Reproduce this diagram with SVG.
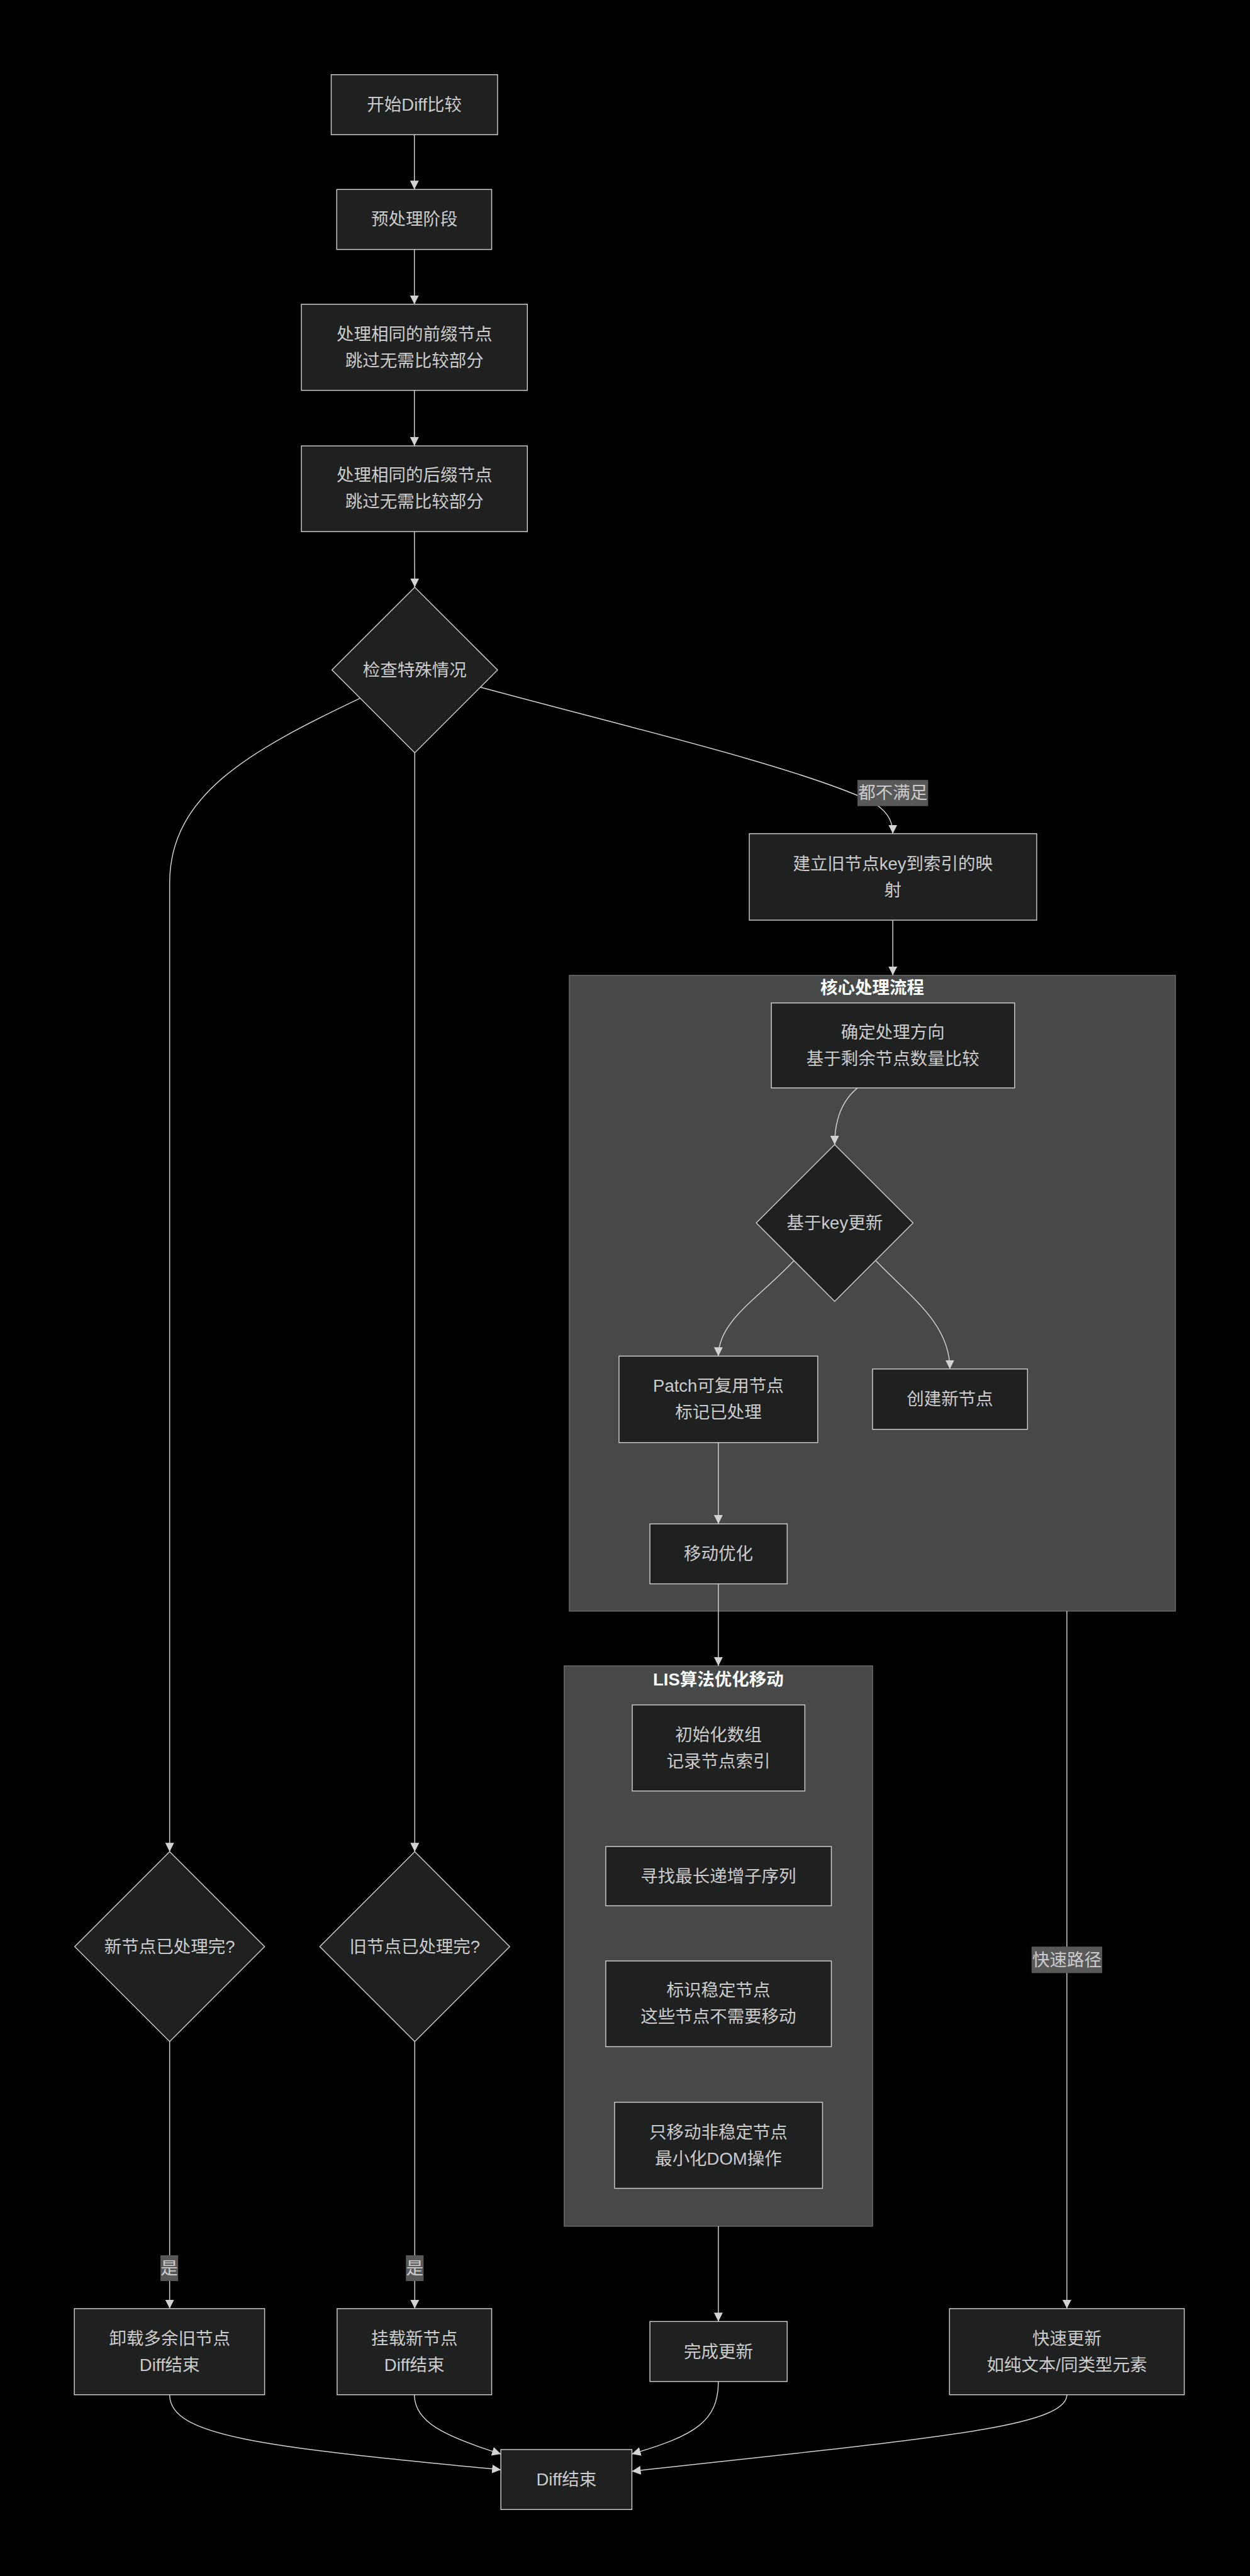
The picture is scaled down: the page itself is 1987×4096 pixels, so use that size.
<svg xmlns="http://www.w3.org/2000/svg" width="1987" height="4096" viewBox="0 0 1987 4096">
<style>
.bg{fill:#000000}
.n{fill:#1f2020;stroke:#cccccc;stroke-width:2.5}
.cl{fill:#474949;stroke:#6a6c6c;stroke-width:2.5}
.t{font-family:"Liberation Sans","Noto Sans CJK SC",sans-serif;font-size:47px;fill:#cccccc;text-anchor:middle;dominant-baseline:central}
.ct{font-family:"Liberation Sans","Noto Sans CJK SC",sans-serif;font-size:47px;fill:#f9fffe;text-anchor:middle;dominant-baseline:central;font-weight:bold}
.e{fill:none;stroke:#d3d3d3;stroke-width:2.5;marker-end:url(#arr)}
.lb{fill:#585858}
</style>
<defs>
<marker id="arr" viewBox="0 0 10 10" refX="10" refY="5" markerWidth="24" markerHeight="24" markerUnits="userSpaceOnUse" orient="auto">
<path d="M0,0 L10,5 L0,10 z" fill="#d3d3d3"/>
</marker>
</defs>
<rect class="bg" x="0" y="0" width="1987" height="4096"/>
<g transform="scale(0.585)">
<g id="clusters">
<g id="cluster-core"><rect class="cl" x="1547" y="2651" width="1647" height="1728"/><text class="ct" x="2370" y="2684">核心处理流程</text></g>
<g id="cluster-lis"><rect class="cl" x="1533" y="4528" width="838" height="1523"/><text class="ct" x="1952" y="4565">LIS算法优化移动</text></g>
</g>
<g id="edges">
<path class="e" d="M1126,366 L1126,515"/>
<path class="e" d="M1126,678 L1126,827"/>
<path class="e" d="M1126,1061 L1126,1212"/>
<path class="e" d="M1126,1445 L1127,1596"/>
<path class="e" d="M978,1898 C680,2040 461,2160 461,2400 L461,5033"/>
<path class="e" d="M1127,2046 L1127,5033"/>
<path class="e" d="M1306,1868 C1700,1975 2150,2080 2360,2175 C2410,2200 2426,2230 2426,2266"/>
<path class="e" d="M2426,2501 L2426,2651"/>
<path class="e" d="M2330,2957 C2290,2990 2268,3040 2268,3111"/>
<path class="e" d="M2157,3427 C2060,3530 1952,3590 1952,3686"/>
<path class="e" d="M2380,3427 C2480,3530 2581,3600 2581,3721"/>
<path class="e" d="M1952,3921 L1952,4142"/>
<path class="e" d="M1952,4305 L1952,4528"/>
<path class="e" d="M1952,6051 L1952,6310"/>
<path class="e" d="M2899,4379 L2899,6275"/>
<path class="e" d="M461,5549 L461,6275"/>
<path class="e" d="M1127,5549 L1127,6275"/>
<path class="e" d="M461,6509 C461,6620 700,6650 1361,6713"/>
<path class="e" d="M1126,6509 C1126,6580 1200,6620 1361,6670"/>
<path class="e" d="M1952,6473 C1952,6580 1890,6620 1717,6670"/>
<path class="e" d="M2899,6509 C2899,6600 2500,6630 1717,6717"/>
</g>
<g id="edge-labels">
<g><rect class="lb" x="2330" y="2120" width="192" height="71"/><text class="t" x="2426" y="2155.5">都不满足</text></g>
<g><rect class="lb" x="2803" y="5291" width="192" height="72"/><text class="t" x="2899" y="5327">快速路径</text></g>
<g><rect class="lb" x="436" y="6130" width="48" height="70"/><text class="t" x="460" y="6165">是</text></g>
<g><rect class="lb" x="1103" y="6130" width="48" height="70"/><text class="t" x="1127" y="6165">是</text></g>
</g>
<g id="nodes">
<g id="start"><rect class="n" x="900" y="203" width="452" height="163"/><text class="t" x="1126" y="284.5">开始Diff比较</text></g>
<g id="pre"><rect class="n" x="915" y="515" width="421" height="163"/><text class="t" x="1126" y="596.5">预处理阶段</text></g>
<g id="prefix"><rect class="n" x="819" y="827" width="614" height="234"/><text class="t" x="1126" y="908">处理相同的前缀节点</text><text class="t" x="1126" y="980">跳过无需比较部分</text></g>
<g id="suffix"><rect class="n" x="819" y="1212" width="614" height="233"/><text class="t" x="1126" y="1292">处理相同的后缀节点</text><text class="t" x="1126" y="1364">跳过无需比较部分</text></g>
<g id="check"><polygon class="n" points="1127,1596 1352,1821 1127,2046 902,1821"/><text class="t" x="1127" y="1821">检查特殊情况</text></g>
<g id="map"><rect class="n" x="2036" y="2266" width="781" height="235"/><text class="t" x="2426" y="2348">建立旧节点key到索引的映</text><text class="t" x="2426" y="2420">射</text></g>
<g id="dir"><rect class="n" x="2096" y="2726" width="661" height="231"/><text class="t" x="2426" y="2806">确定处理方向</text><text class="t" x="2426" y="2878">基于剩余节点数量比较</text></g>
<g id="keyupd"><polygon class="n" points="2268,3111 2481,3324 2268,3537 2055,3324"/><text class="t" x="2268" y="3324">基于key更新</text></g>
<g id="patch"><rect class="n" x="1682" y="3686" width="540" height="235"/><text class="t" x="1952" y="3767">Patch可复用节点</text><text class="t" x="1952" y="3839">标记已处理</text></g>
<g id="create"><rect class="n" x="2371" y="3721" width="421" height="164"/><text class="t" x="2581" y="3803">创建新节点</text></g>
<g id="move"><rect class="n" x="1766" y="4142" width="373" height="163"/><text class="t" x="1952" y="4223.5">移动优化</text></g>
<g id="lis1"><rect class="n" x="1718" y="4634" width="469" height="234"/><text class="t" x="1952" y="4715">初始化数组</text><text class="t" x="1952" y="4787">记录节点索引</text></g>
<g id="lis2"><rect class="n" x="1646" y="5019" width="613" height="161"/><text class="t" x="1952" y="5099.5">寻找最长递增子序列</text></g>
<g id="lis3"><rect class="n" x="1646" y="5330" width="613" height="233"/><text class="t" x="1952" y="5410">标识稳定节点</text><text class="t" x="1952" y="5482">这些节点不需要移动</text></g>
<g id="lis4"><rect class="n" x="1670" y="5714" width="565" height="234"/><text class="t" x="1952" y="5795">只移动非稳定节点</text><text class="t" x="1952" y="5867">最小化DOM操作</text></g>
<g id="newdone"><polygon class="n" points="461,5033 719,5291 461,5549 203,5291"/><text class="t" x="461" y="5291">新节点已处理完?</text></g>
<g id="olddone"><polygon class="n" points="1127,5033 1385,5291 1127,5549 869,5291"/><text class="t" x="1127" y="5291">旧节点已处理完?</text></g>
<g id="unmount"><rect class="n" x="202" y="6275" width="517" height="234"/><text class="t" x="461" y="6356">卸载多余旧节点</text><text class="t" x="461" y="6428">Diff结束</text></g>
<g id="mount"><rect class="n" x="916" y="6275" width="420" height="234"/><text class="t" x="1126" y="6356">挂载新节点</text><text class="t" x="1126" y="6428">Diff结束</text></g>
<g id="done"><rect class="n" x="1766" y="6310" width="373" height="163"/><text class="t" x="1952" y="6391.5">完成更新</text></g>
<g id="fast"><rect class="n" x="2580" y="6275" width="638" height="234"/><text class="t" x="2899" y="6356">快速更新</text><text class="t" x="2899" y="6428">如纯文本/同类型元素</text></g>
<g id="end"><rect class="n" x="1361" y="6658" width="356" height="163"/><text class="t" x="1539" y="6739.5">Diff结束</text></g>
</g>
</g>
</svg>
